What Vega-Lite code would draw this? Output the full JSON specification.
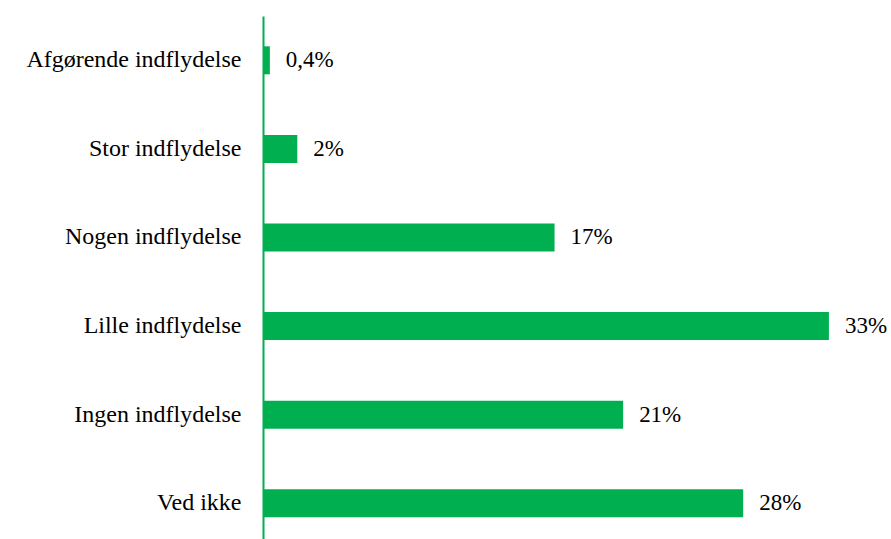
{
  "$schema": "https://vega.github.io/schema/vega-lite/v6.json",
  "autosize": {"type": "none"},
  "padding": {"left": 263, "top": 16, "right": 0, "bottom": 0},
  "width": 628,
  "height": 531.6,
  "background": "white",
  "config": {"view": {"stroke": null}},
  "data": {"values": [
    {"kategori": "Afgørende indflydelse", "andel": 0.4, "label": "0,4%"},
    {"kategori": "Stor indflydelse", "andel": 2, "label": "2%"},
    {"kategori": "Nogen indflydelse", "andel": 17, "label": "17%"},
    {"kategori": "Lille indflydelse", "andel": 33, "label": "33%"},
    {"kategori": "Ingen indflydelse", "andel": 21, "label": "21%"},
    {"kategori": "Ved ikke", "andel": 28, "label": "28%"}
  ]},
  "encoding": {
    "y": {"field": "kategori", "type": "nominal", "sort": null,
      "scale": {"paddingInner": 0.684, "paddingOuter": 0.342},
      "axis": {"title": null, "ticks": false, "grid": false, "domainColor": "#00b050", "domainWidth": 2,
        "labelFont": "Liberation Serif", "labelFontSize": 24, "labelColor": "#000000", "labelPadding": 22, "labelLimit": 400}},
    "x": {"field": "andel", "type": "quantitative", "scale": {"domain": [0, 36.62], "nice": false}, "axis": null}
  },
  "layer": [
    {"mark": {"type": "bar", "color": "#00b050"}},
    {"mark": {"type": "text", "align": "left", "baseline": "middle", "dx": 16, "font": "Liberation Serif", "fontSize": 23, "color": "#000000"},
     "encoding": {"text": {"field": "label"}}}
  ]
}
